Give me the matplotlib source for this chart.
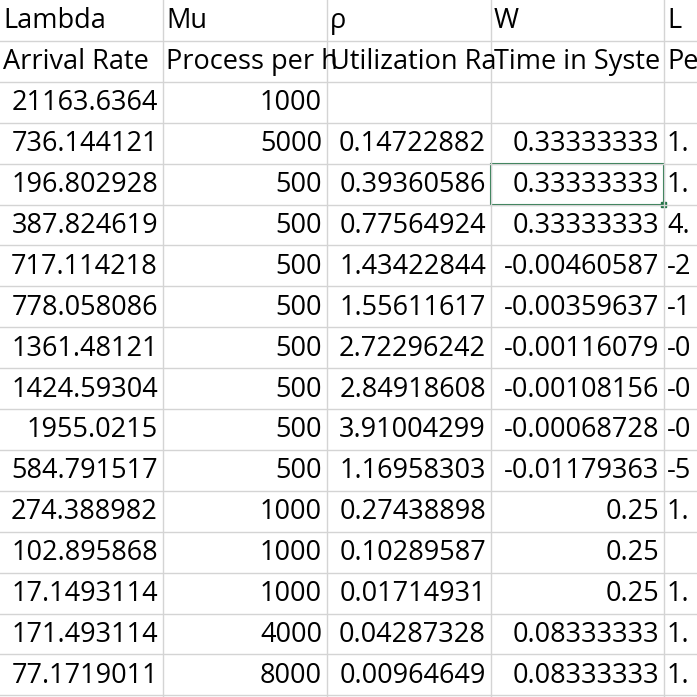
import matplotlib.pyplot as plt
from matplotlib.patches import Rectangle

headers1 = ["Lambda", "Mu", "ρ", "W", "L"]
# header texts as far as they are visible in their cells
headers2 = ["Arrival Rate", "Process per h", "Utilization Ra", "Time in Syste", "Pe"]
lam = ["21163.6364", "736.144121", "196.802928", "387.824619", "717.114218", "778.058086",
       "1361.48121", "1424.59304", "1955.0215", "584.791517", "274.388982", "102.895868",
       "17.1493114", "171.493114", "77.1719011"]
mu = ["1000", "5000", "500", "500", "500", "500", "500", "500", "500", "500",
      "1000", "1000", "1000", "4000", "8000"]
rho = ["", "0.14722882", "0.39360586", "0.77564924", "1.43422844", "1.55611617",
       "2.72296242", "2.84918608", "3.91004299", "1.16958303", "0.27438898",
       "0.10289587", "0.01714931", "0.04287328", "0.00964649"]
w = ["", "0.33333333", "0.33333333", "0.33333333", "-0.00460587", "-0.00359637",
     "-0.00116079", "-0.00108156", "-0.00068728", "-0.01179363", "0.25", "0.25",
     "0.25", "0.08333333", "0.08333333"]
# only the first characters of the L column are visible
l_col = ["", "1.", "1.", "4.", "-2", "-1", "-0", "-0", "-0", "-5", "1.", "", "1.", "1.", "1."]

W, H = 697, 697
fig = plt.figure(figsize=(6.97, 6.97), dpi=100)
ax = fig.add_axes([0, 0, 1, 1])
ax.set_xlim(0, W)
ax.set_ylim(H, 0)
ax.axis("off")

cols = [0, 163, 327, 491, 664, 697]
rh = 40.9
font = dict(family="Open Sans", fontsize=19.5, color="black")
grid = "#d4d4d4"

for x in cols[1:-1]:
    ax.plot([x, x], [0, H], color=grid, lw=1)
for i in range(1, 18):
    ax.plot([0, W], [i * rh, i * rh], color=grid, lw=1)

def cell_text(c, r, s, right=False):
    x0, x1 = cols[c], cols[c + 1]
    y = r * rh + rh / 2 + 1
    if right:
        ax.text(x1 - 5, y, s, ha="right", va="center", **font)
    else:
        ax.text(x0 + 3, y, s, ha="left", va="center", **font)

for c in range(5):
    cell_text(c, 0, headers1[c])
    cell_text(c, 1, headers2[c])
for i in range(len(lam)):
    r = i + 2
    cell_text(0, r, lam[i], True)
    cell_text(1, r, mu[i], True)
    cell_text(2, r, rho[i], True)
    cell_text(3, r, w[i], True)
    cell_text(4, r, l_col[i])

ax.add_patch(Rectangle((cols[3], 4 * rh), cols[4] - cols[3], rh, fill=False,
                       edgecolor="#217346", lw=1.5))
ax.add_patch(Rectangle((cols[4] - 3, 5 * rh - 3), 5, 5, color="#217346"))

fig.savefig("out.png", dpi=100)
